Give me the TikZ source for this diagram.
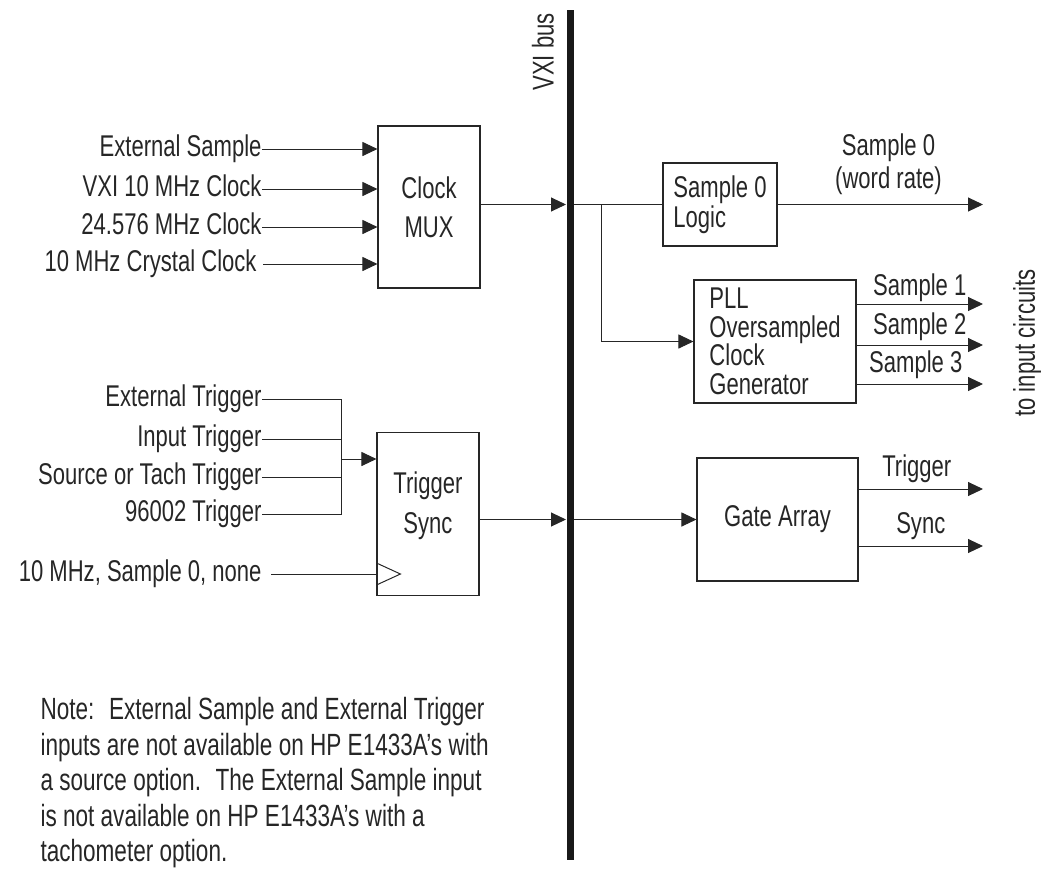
\documentclass[tikz,border=0pt]{standalone}
\usepackage{fontspec}
\setmainfont[FakeStretch=0.735]{Liberation Sans}
\usetikzlibrary{arrows.meta,positioning}

\begin{document}
\begin{tikzpicture}[x=1pt,y=-1pt,line width=1pt,color=black!85,
  every node/.style={font=\fontsize{30}{36}\selectfont,inner sep=0pt},
  box/.style={draw,line width=1.1pt,align=center},
  lbl/.style={anchor=east,text height=21pt,text depth=6pt},
  arr/.style={-{Triangle[length=15pt,width=14pt]}}]
\useasboundingbox (0,0) rectangle (1046,876);
\node[fill=black!90,minimum width=7pt,minimum height=850pt] (bus) at (570,435) {};
\node[rotate=90] (vxi) at (543,52) {VXI bus};

\node[box,minimum width=102pt,minimum height=162pt,font=\fontsize{30}{39}\selectfont] (mux) at (429,207) {Clock\\MUX};
\node[lbl] (ext) at (262,149) {External Sample};
\node[lbl] (vxiclk) at (262,189) {VXI 10 MHz Clock};
\node[lbl] (clk24) at (262,227) {24.576 MHz Clock};
\node[lbl] (xtal) at (257,264) {10 MHz Crystal Clock};
\draw[arr] (ext.east) -- (ext.east -| mux.west);
\draw[arr] (vxiclk.east) -- (vxiclk.east -| mux.west);
\draw[arr] (clk24.east) -- (clk24.east -| mux.west);
\draw[arr] ([xshift=6pt]xtal.east) -- (xtal.east -| mux.west);

\node[box,minimum width=102pt,minimum height=163pt] (sync) at (428,514) {};
\node[align=center,font=\fontsize{30}{40}\selectfont] (synctxt) at (428,506) {Trigger\\Sync};
\node[lbl] (exttrig) at (262,399) {External Trigger};
\node[lbl] (inptrig) at (262,439) {Input Trigger};
\node[lbl] (srctrig) at (262,477) {Source or Tach Trigger};
\node[lbl] (trig96) at (262,514) {96002 Trigger};
\coordinate (join) at (341,459);
\draw (exttrig.east) -- (exttrig.east -| join) -- (trig96.east -| join) -- (trig96.east);
\draw (inptrig.east) -- (inptrig.east -| join);
\draw (srctrig.east) -- (srctrig.east -| join);
\draw[arr] (join) -- (join -| sync.west);
\node[lbl] (clksel) at (262,574) {10 MHz, Sample 0, none};
\coordinate (ck) at (sync.west |- clksel.east);
\draw ([xshift=9pt]clksel.east) -- (ck);
\draw ([yshift=11pt]ck) -- ([xshift=24pt]ck) -- ([yshift=-11pt]ck);

\node[box,minimum width=114pt,minimum height=83pt,align=left,font=\fontsize{30}{30}\selectfont] (logic) at (720,204.5) {Sample 0\\Logic};
\node[box,minimum width=162pt,minimum height=123pt,align=left,font=\fontsize{30}{28.5}\selectfont] (pll) at (775,341.5) {PLL\\Oversampled\\Clock\\Generator};
\node[box,minimum width=161pt,minimum height=123pt] (gate) at (777.5,519.5) {Gate Array};

\draw[arr] (mux.east |- logic.west) -- (bus.west |- logic.west);
\draw (bus.east |- logic.west) -- (logic.west);
\coordinate (br) at (601,204.5);
\draw[arr] (br) |- (pll.west);
\draw[arr] (sync.east |- gate.west) -- (bus.west |- gate.west);
\draw[arr] (bus.east |- gate.west) -- (gate.west);

\coordinate (o0) at (983,204.5);
\coordinate (o1) at (983,304);
\coordinate (o2) at (983,345);
\coordinate (o3) at (983,384);
\coordinate (otrig) at (983,489);
\coordinate (osync) at (983,546);
\draw[arr] (logic.east) -- (o0) node[pos=0.54,above=9pt,align=center,font=\fontsize{30}{33}\selectfont] {Sample 0\\(word rate)};
\draw[arr] (pll.east |- o1) -- (o1) node[midway,above=2pt] {Sample 1};
\draw[arr] (pll.east |- o2) -- (o2) node[midway,above=4pt] {Sample 2};
\draw[arr] (pll.east |- o3) -- (o3) node[midway,above=5pt,xshift=-4pt] {Sample 3};
\draw[arr] (gate.east |- otrig) -- (otrig) node[midway,above=6pt,xshift=-4pt] {Trigger};
\draw[arr] (gate.east |- osync) -- (osync) node[midway,above=6pt] {Sync};
\node[rotate=90] (toin) at (1027,343) {to input circuits};

\node[anchor=north west,align=left,font=\fontsize{30.7}{35.5}\selectfont] (note) at (40,697) {Note:~ External Sample and External Trigger\\inputs are not available on HP E1433A's with\\a source option.~ The External Sample input\\is not available on HP E1433A's with a\\tachometer option.};
\end{tikzpicture}
\end{document}
